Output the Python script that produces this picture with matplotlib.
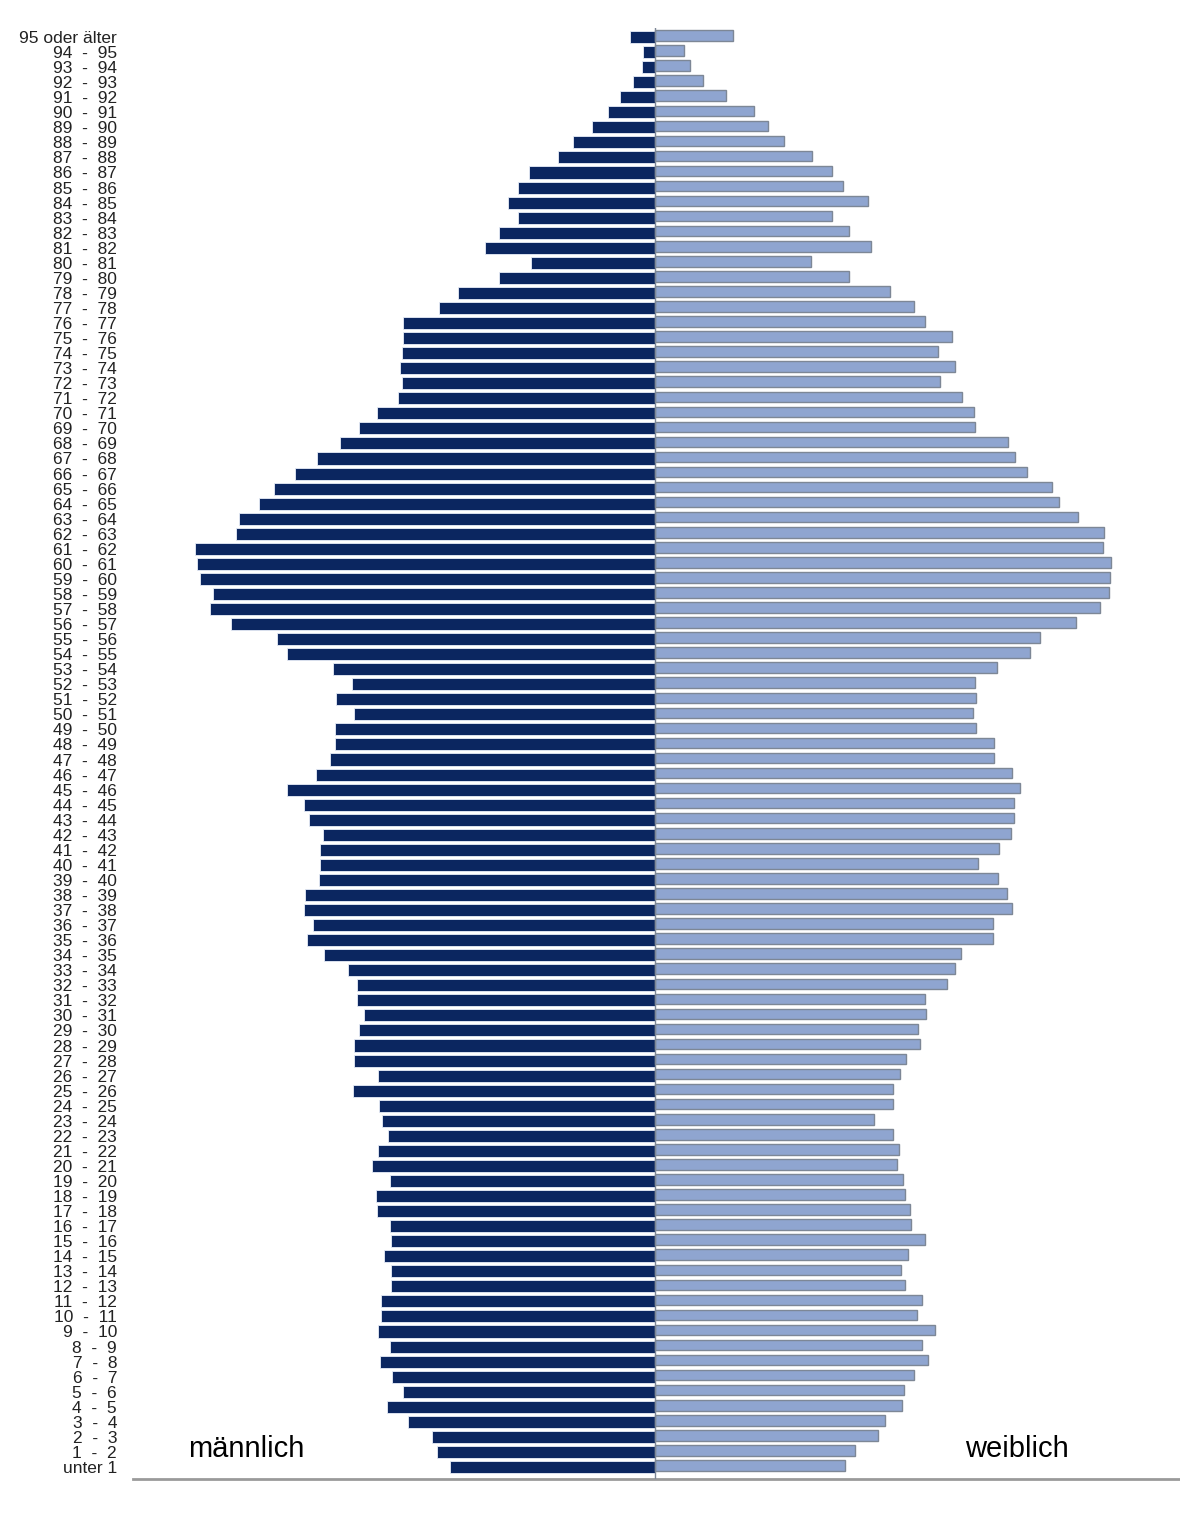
import matplotlib.pyplot as plt
import numpy as np

# age groups, top (oldest) to bottom (youngest)
labels = ["95 oder älter"] + [f"{a}  -  {a + 1}" for a in range(94, 0, -1)] + ["unter 1"]

# bar lengths (arbitrary units), same order as labels
maennlich = [
    25, 12, 13, 22, 35, 47, 63, 82, 97, 126,
    137, 147, 137, 156, 170, 124, 156, 197, 216, 252,
    252, 253, 255, 253, 257, 278, 296, 315, 338, 360,
    381, 396, 416, 419, 460, 458, 455, 442, 445, 424,
    378, 368, 322, 303, 319, 301, 320, 320, 325, 339,
    368, 351, 346, 332, 335, 335, 336, 350, 351, 342,
    348, 331, 307, 298, 298, 291, 296, 301, 301, 277,
    302, 276, 273, 267, 277, 283, 265, 279, 278, 265,
    264, 271, 264, 264, 274, 274, 277, 265, 275, 263,
    252, 268, 247, 223, 218, 205,
]
weiblich = [
    78, 29, 35, 48, 71, 99, 113, 129, 157, 177,
    188, 213, 177, 194, 216, 156, 194, 235, 259, 270,
    297, 283, 300, 285, 307, 319, 320, 353, 360, 372,
    397, 404, 423, 449, 448, 456, 455, 454, 445, 421,
    385, 375, 342, 320, 321, 318, 321, 339, 339, 357,
    365, 359, 359, 356, 344, 323, 343, 352, 357, 338,
    338, 306, 300, 292, 270, 271, 263, 265, 251, 245,
    238, 238, 219, 238, 244, 242, 248, 250, 255, 256,
    270, 253, 246, 250, 267, 262, 280, 267, 273, 259,
    249, 247, 230, 223, 200, 190,
]

NAVY = "#0b2660"
LIGHT = "#8fa5d0"
EDGE = "#7d8796"
FONT = ["Liberation Sans", "DejaVu Sans"]

fig = plt.figure(figsize=(11.8, 15.29), dpi=100)
ax = fig.add_axes([133 / 1180, 1 - 1479 / 1529, 1047 / 1180, 1451 / 1529])

y = np.arange(len(labels))
m = np.array(maennlich)
w = np.array(weiblich)

ax.barh(y, -m, height=0.8, color=NAVY, edgecolor="#e8eef8", linewidth=0.6)
ax.barh(y - 0.1, w, height=0.7, color=LIGHT, edgecolor=EDGE, linewidth=1.0)
ax.axvline(0, color=EDGE, linewidth=1.0, zorder=3)

ax.set_xlim(-522, 525)
ax.set_ylim(95.8, -0.6)
ax.set_yticks(y)
ax.set_yticklabels(labels, family=FONT, fontsize=12.5, color="#222222")
ax.tick_params(axis="y", length=0, pad=11.5)
ax.set_xticks([])

for s in ["left", "right", "top"]:
    ax.spines[s].set_visible(False)
ax.spines["bottom"].set_color("#9a9a9a")
ax.spines["bottom"].set_linewidth(2)

ax.text(-409, 93.8, "männlich", ha="center", va="center", fontsize=21, family=FONT)
ax.text(362, 93.8, "weiblich", ha="center", va="center", fontsize=21, family=FONT)

fig.savefig("out.png", dpi=100)
